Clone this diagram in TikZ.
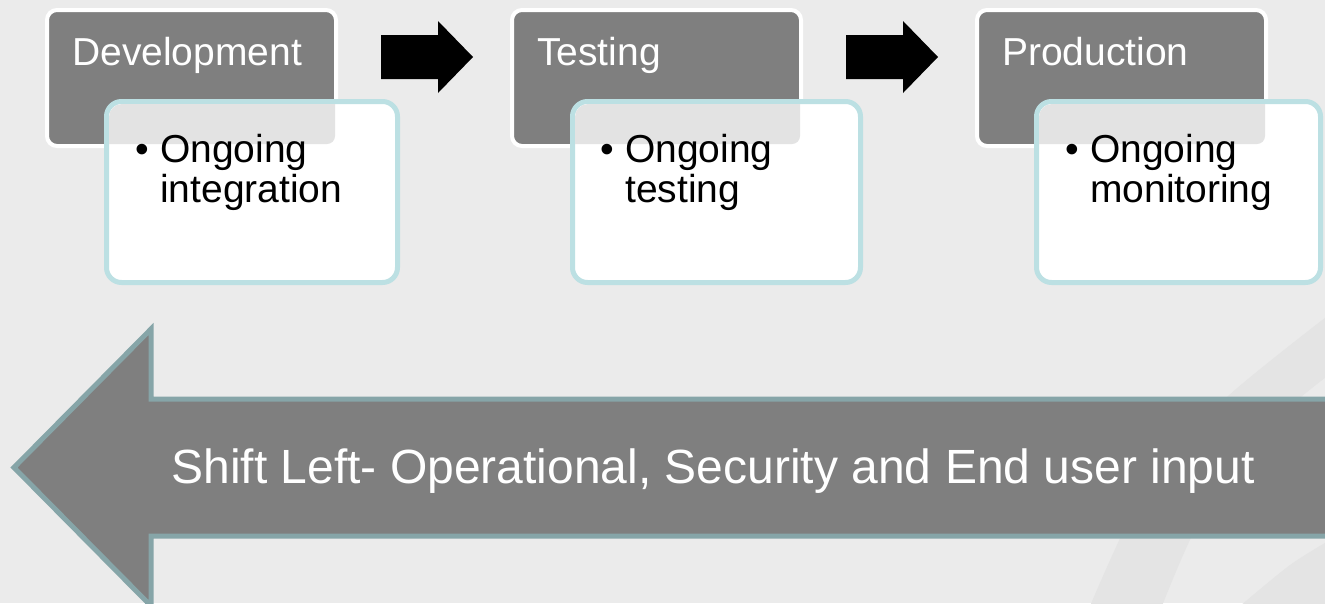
\documentclass[tikz,border=0pt]{standalone}
\usepackage{fontspec}
\setmainfont{Liberation Sans}
\usetikzlibrary{calc}
\definecolor{bgcol}{HTML}{EBEBEB}
\definecolor{swooshcol}{HTML}{E4E4E4}
\definecolor{stagegray}{HTML}{7F7F7F}
\definecolor{cardedge}{HTML}{BCE0E3}
\definecolor{shadecol}{HTML}{E3E3E3}
\definecolor{bigedge}{HTML}{86A5A8}
\tikzset{
  stagebox/.style={fill=stagegray, draw=white, line width=4pt, rounded corners=10pt},
  cardbox/.style={fill=white, draw=cardedge, line width=5pt, rounded corners=15pt},
  stagetext/.style={anchor=base west, inner sep=0pt, text=white, font=\fontsize{39}{39}\selectfont},
  bullettext/.style={anchor=base west, inner sep=0pt, text=black, font=\fontsize{39}{38}\selectfont},
  bulletdot/.style={anchor=base, inner sep=0pt, text=black, font=\fontsize{39}{38}\selectfont},
  stepper/.style={fill=black, draw=none},
  bigarrow/.style={fill=stagegray, draw=bigedge, line width=5pt, line join=miter},
  bigtext/.style={anchor=base, inner sep=0pt, text=white, font=\fontsize{48}{48}\selectfont}
}
\begin{document}
\begin{tikzpicture}[x=1pt, y=-1pt]
% canvas
\fill[bgcol] (0,0) rectangle (1325,603);
\useasboundingbox (0,0) rectangle (1325,603);

% faint background swoosh
\begin{scope}
\clip (0,0) rectangle (1325,603);
\fill[swooshcol] plot[smooth] coordinates {(1330,314) (1227,397) (1150,480) (1090,606)}
  -- plot[smooth] coordinates {(1162,606) (1200,520) (1262,432) (1330,374)} -- cycle;
\fill[swooshcol] plot[smooth] coordinates {(1240,606) (1290,565) (1330,540)} -- (1330,606) -- cycle;
\end{scope}

% stage boxes (outer edges: 45..338, 510..803, 975..1268 ; 8..148)
\draw[stagebox] (47,10) rectangle (336,146);
\draw[stagebox] (512,10) rectangle (801,146);
\draw[stagebox] (977,10) rectangle (1266,146);
\node[stagetext] (s1) at (72,65) {Development};
\node[stagetext] (s2) at (537,65) {Testing};
\node[stagetext] (s3) at (1002,65) {Production};

% detail cards
\draw[cardbox] (106.5,101.5) rectangle (397.5,282.5);
\draw[cardbox] (572.5,101.5) rectangle (860.5,282.5);
\draw[cardbox] (1036.5,101.5) rectangle (1320.5,282.5);

% the stage box showing through the top of each card
\foreach \dx/\cx/\cw in {0/106.5/291, 465/572.5/288, 930/1036.5/284}{
  \begin{scope}
    \clip[rounded corners=13pt] (\cx+2.5,104) rectangle (\cx+\cw-2.5,280);
    \fill[shadecol, rounded corners=8pt] (47+\dx,10) rectangle (335+\dx,144);
  \end{scope}
}

% card texts
\node[bulletdot] (b1) at (142,162) {•};
\node[bullettext] (t1a) at (160,162) {Ongoing};
\node[bullettext] (t1b) at (160,202) {integration};
\node[bulletdot] (b2) at (607,162) {•};
\node[bullettext] (t2a) at (625,162) {Ongoing};
\node[bullettext] (t2b) at (625,202) {testing};
\node[bulletdot] (b3) at (1072,162) {•};
\node[bullettext] (t3a) at (1090,162) {Ongoing};
\node[bullettext] (t3b) at (1090,202) {monitoring};

% black step arrows between the stages
\foreach \dx/\nm in {0/a1, 465/a2}{
  \coordinate (\nm) at (381+\dx,57);
  \fill[stepper] (\nm) ++(0,-22) -- ++(57,0) -- ++(0,-14) -- ++(35,36)
     -- ++(-35,36) -- ++(0,-14) -- ++(-57,0) -- cycle;
}

% shift-left arrow
\draw[bigarrow] (1335,399) -- (151,399) -- (151,329) -- (14,467.5) -- (151,606)
   -- (151,536) -- (1335,536);
\fill[stagegray] (1325,401.5) rectangle (1335,533.5);
\node[bigtext] (shift) at (713,483) {Shift Left- Operational, Security and End user input};
\end{tikzpicture}
\end{document}
